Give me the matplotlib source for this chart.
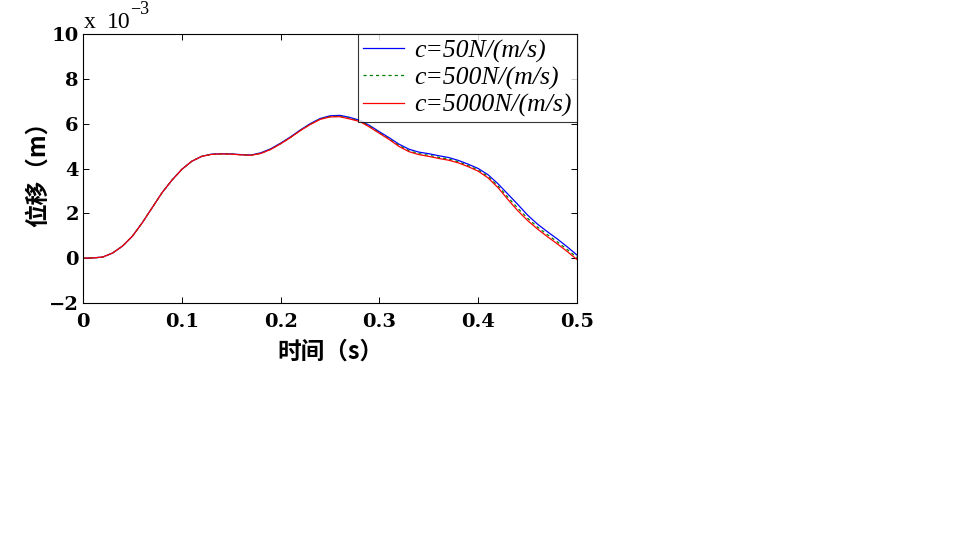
import matplotlib
matplotlib.use("Agg")
import matplotlib.pyplot as plt

# time (s)
t = [0.00, 0.01, 0.02, 0.03, 0.04, 0.05, 0.06, 0.07, 0.08, 0.09,
     0.10, 0.11, 0.12, 0.13, 0.14, 0.15, 0.16, 0.17, 0.18, 0.19,
     0.20, 0.21, 0.22, 0.23, 0.24, 0.25, 0.26, 0.27, 0.28, 0.29,
     0.30, 0.31, 0.32, 0.33, 0.34, 0.35, 0.36, 0.37, 0.38, 0.39,
     0.40, 0.41, 0.42, 0.43, 0.44, 0.45, 0.46, 0.47, 0.48, 0.49, 0.50]

# displacement (x 10^-3 m)
disp_c50 = [0.00, 0.01, 0.05, 0.23, 0.54, 0.98, 1.58, 2.25, 2.92, 3.48,
            3.96, 4.32, 4.54, 4.64, 4.66, 4.65, 4.62, 4.60, 4.70, 4.88,
            5.13, 5.41, 5.72, 6.00, 6.23, 6.35, 6.37, 6.28, 6.15, 5.92,
            5.64, 5.37, 5.08, 4.86, 4.73, 4.66, 4.57, 4.49, 4.36, 4.19,
            4.00, 3.72, 3.32, 2.86, 2.40, 1.92, 1.52, 1.18, 0.86, 0.51, 0.14]
disp_c500 = [0.00, 0.01, 0.05, 0.23, 0.54, 0.98, 1.58, 2.25, 2.92, 3.48,
             3.96, 4.32, 4.54, 4.63, 4.65, 4.64, 4.61, 4.59, 4.68, 4.86,
             5.11, 5.39, 5.70, 5.98, 6.21, 6.32, 6.33, 6.24, 6.12, 5.88,
             5.60, 5.32, 5.02, 4.79, 4.66, 4.59, 4.50, 4.42, 4.30, 4.12,
             3.93, 3.64, 3.22, 2.72, 2.23, 1.78, 1.39, 1.05, 0.73, 0.39, 0.03]
disp_c5000 = [0.00, 0.01, 0.05, 0.23, 0.54, 0.98, 1.58, 2.25, 2.92, 3.48,
              3.96, 4.32, 4.54, 4.63, 4.65, 4.64, 4.61, 4.59, 4.67, 4.85,
              5.10, 5.38, 5.69, 5.96, 6.19, 6.30, 6.31, 6.21, 6.10, 5.85,
              5.57, 5.29, 4.98, 4.75, 4.62, 4.54, 4.45, 4.37, 4.25, 4.08,
              3.88, 3.58, 3.15, 2.62, 2.12, 1.68, 1.30, 0.96, 0.64, 0.30, -0.06]

labels = ["c=50N/(m/s)", "c=500N/(m/s)", "c=5000N/(m/s)"]
xticks = [0, 0.1, 0.2, 0.3, 0.4, 0.5]
xticklabels = ["0", "0.1", "0.2", "0.3", "0.4", "0.5"]
yticks = [-2, 0, 2, 4, 6, 8, 10]
yticklabels = ["\u22122", "0", "2", "4", "6", "8", "10"]

W, H = 955, 543
fig = plt.figure(figsize=(W / 100, H / 100), dpi=100)
ax = fig.add_axes([83 / W, 1 - 303 / H, (577 - 83) / W, (303 - 34) / H])

ax.plot(t, disp_c50, color="#0000ff", lw=0.9, label=labels[0])
ax.plot(t, disp_c500, color="#007f00", lw=0.9, ls=(0, (2.5, 2.5)), label=labels[1])
ax.plot(t, disp_c5000, color="#ff0000", lw=0.9, label=labels[2])

ax.set_xlim(0, 0.5)
ax.set_ylim(-2, 10)
ax.set_xticks(xticks)
ax.set_xticklabels(xticklabels)
ax.set_yticks(yticks)
ax.set_yticklabels(yticklabels)

for lab in ax.get_xticklabels() + ax.get_yticklabels():
    lab.set_fontfamily("DejaVu Serif")
    lab.set_fontweight("bold")
    lab.set_fontsize(14)

ax.tick_params(direction="in", length=4, width=0.7, top=True, right=True,
               colors="black")
ax.tick_params(axis="x", pad=7.5)
ax.tick_params(axis="y", pad=3)
for s in ax.spines.values():
    s.set_linewidth(0.8)

cjk = ["Noto Sans CJK SC", "DejaVu Sans"]
ax.set_xlabel("时间（s）", family=cjk, fontweight="bold", fontsize=17, labelpad=6)
ax.set_ylabel("位移（m）", family=cjk, fontweight="bold", fontsize=17, labelpad=-1)

# exponent label, MATLAB style
fig.text(84 / W, 1 - 28 / H, "x", family="Liberation Serif", fontsize=17,
         va="baseline", ha="left")
fig.text(107 / W, 1 - 28 / H, "10", family="Liberation Serif", fontsize=17,
         va="baseline", ha="left")
fig.text(130 / W, 1 - 14 / H, "\u22123", family="Liberation Serif", fontsize=13,
         va="baseline", ha="left")

leg = ax.legend(loc="upper right", bbox_to_anchor=(1, 1), borderaxespad=0,
                prop={"family": "Liberation Serif", "style": "italic", "size": 18.5},
                frameon=True, fancybox=False, edgecolor="black",
                handlelength=1.6, labelspacing=0.15, borderpad=0.2,
                handletextpad=0.4)
leg.get_frame().set_linewidth(0.8)

fig.savefig("out.png", dpi=100, facecolor="white")
